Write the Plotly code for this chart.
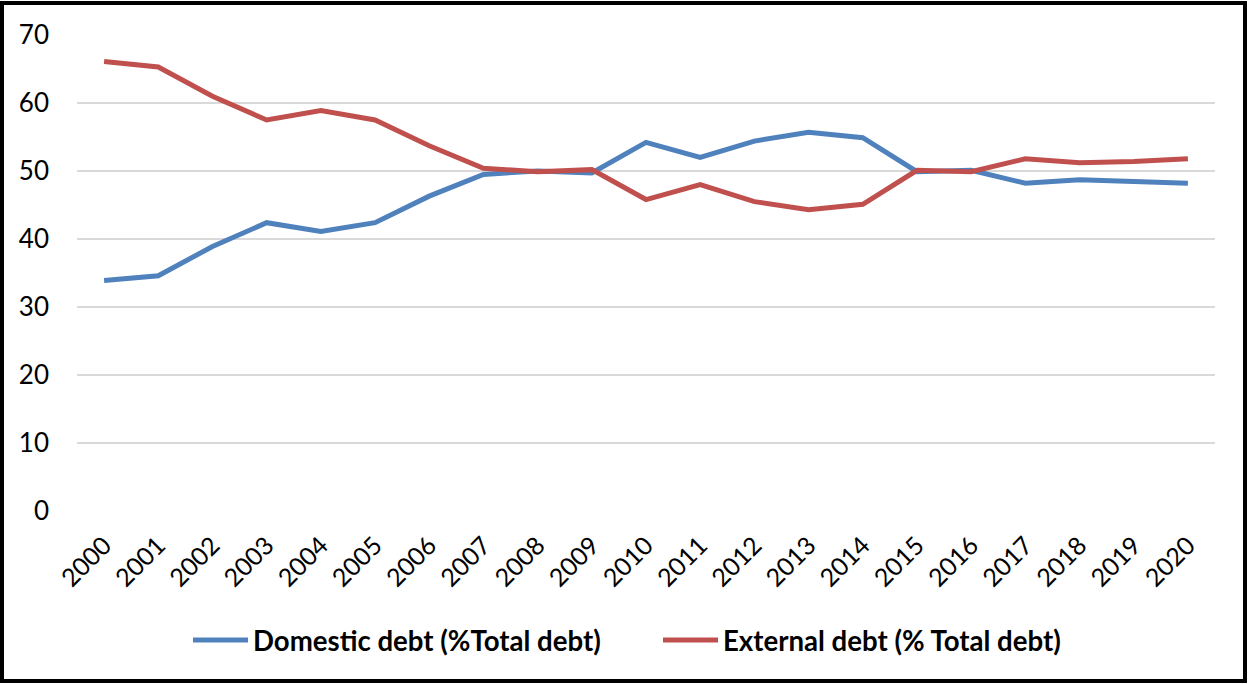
import plotly.graph_objects as go

years = [str(y) for y in range(2000, 2021)]
domestic = [33.9, 34.6, 38.9, 42.4, 41.1, 42.4, 46.3, 49.5, 50.0, 49.7,
            54.2, 52.0, 54.4, 55.7, 54.9, 49.9, 50.1, 48.2, 48.7, 48.5, 48.2]
external = [66.1, 65.3, 61.0, 57.5, 58.9, 57.5, 53.7, 50.4, 49.9, 50.2,
            45.8, 48.0, 45.5, 44.3, 45.1, 50.1, 49.9, 51.8, 51.2, 51.4, 51.8]

FONT = "Lato"

fig = go.Figure()
fig.add_trace(go.Scatter(x=years, y=domestic, mode="lines",
                         name="Domestic debt (%Total debt)",
                         line=dict(color="#4F81BD", width=5)))
fig.add_trace(go.Scatter(x=years, y=external, mode="lines",
                         name="External debt (% Total debt)",
                         line=dict(color="#C0504D", width=5)))

W, H = 1250, 684
L, R, T, B = 77, 35, 35, 173
pw, ph = W - L - R, H - T - B

def px(x):
    return (x - L) / pw

def py(y):
    return (H - B - y) / ph

fig.update_layout(
    width=W, height=H,
    margin=dict(l=L, r=R, t=T, b=B),
    paper_bgcolor="white", plot_bgcolor="white",
    font=dict(family=FONT, color="black", size=24),
    xaxis=dict(type="category", tickangle=-45, showgrid=False, showline=False,
               ticks="", tickfont=dict(size=25, family=FONT),
               ticklabelstandoff=14, range=[-0.5, 20.5]),
    yaxis=dict(range=[0, 70], dtick=10, showgrid=True, gridcolor="#D9D9D9",
               gridwidth=1.5, zeroline=False, showline=False, ticks="",
               tickfont=dict(size=26, family=FONT), ticklabelstandoff=27),
    legend=dict(orientation="h", x=px(188), xanchor="left", y=py(640),
                yanchor="middle", font=dict(size=27.6, family=FONT, weight="bold"),
                entrywidth=400, entrywidthmode="pixels", itemwidth=55),
    showlegend=True,
    shapes=[dict(type="rect", xref="paper", yref="paper",
                 x0=px(2), x1=px(1245), y0=py(681), y1=py(3),
                 line=dict(color="black", width=4), fillcolor="rgba(0,0,0,0)")],
)

fig.write_html(
    "out.html",
    config={"displayModeBar": False},
    post_script="document.body.style.margin='0';document.body.style.overflow='hidden';",
)
